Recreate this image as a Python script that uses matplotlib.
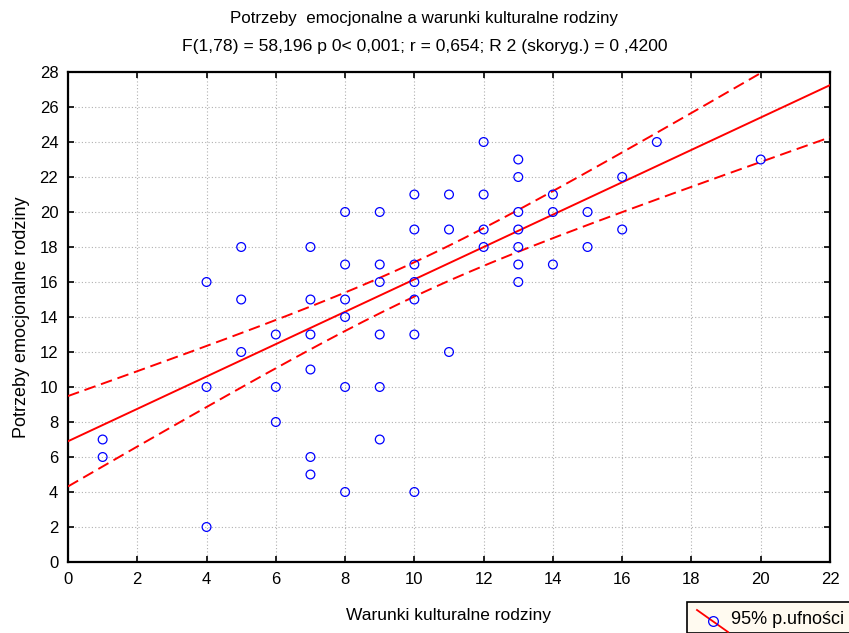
import numpy as np
import matplotlib
matplotlib.use("Agg")
import matplotlib.pyplot as plt
from matplotlib.patches import Rectangle
from matplotlib.lines import Line2D

plt.rcParams["font.family"] = ["Liberation Sans", "DejaVu Sans"]

# Warunki kulturalne (x) i potrzeby emocjonalne (y) - widoczne punkty
warunki = [1, 1,
           4, 4, 4,
           5, 5, 5,
           6, 6, 6,
           7, 7, 7, 7, 7, 7,
           8, 8, 8, 8, 8, 8,
           9, 9, 9, 9, 9, 9,
           10, 10, 10, 10, 10, 10, 10,
           11, 11, 11,
           12, 12, 12, 12,
           13, 13, 13, 13, 13, 13, 13,
           14, 14, 14,
           15, 15,
           16, 16,
           17,
           20]
potrzeby = [7, 6,
            16, 10, 2,
            18, 15, 12,
            13, 10, 8,
            18, 15, 13, 11, 6, 5,
            20, 17, 15, 14, 10, 4,
            20, 17, 16, 13, 10, 7,
            21, 19, 17, 16, 15, 13, 4,
            21, 19, 12,
            24, 21, 19, 18,
            23, 22, 20, 19, 18, 17, 16,
            21, 20, 17,
            20, 18,
            22, 19,
            24,
            23]

# parametry regresji
n_obs = 80
wyraz_wolny = 6.9
nachylenie = 0.925
srednia_x = 10.1
odch_reszt = 4.4
sxx = 1370.0
t_kryt = 1.9908  # t(0.975; 78)

xs = np.linspace(0, 22, 300)
y_fit = wyraz_wolny + nachylenie * xs
polszer = t_kryt * odch_reszt * np.sqrt(1 / n_obs + (xs - srednia_x) ** 2 / sxx)

fig = plt.figure(figsize=(8.49, 6.33), dpi=100)
ax = fig.add_axes([68 / 849, 1 - 562 / 633, 762 / 849, 490 / 633])

ax.plot(xs, y_fit, color="red", lw=1.4, zorder=3)
ax.plot(xs, y_fit + polszer, color="red", lw=1.4, ls=(0, (6, 3)), zorder=3)
ax.plot(xs, y_fit - polszer, color="red", lw=1.4, ls=(0, (6, 3)), zorder=3)
ax.scatter(warunki, potrzeby, s=40, facecolors="none", edgecolors="blue",
           linewidths=0.9, zorder=4)

ax.set_xlim(0, 22)
ax.set_ylim(0, 28)
ax.set_xticks(range(0, 23, 2))
ax.set_yticks(range(0, 29, 2))
ax.grid(True, color="#b0b0b0", ls=(0, (1, 2)), lw=0.8)
ax.tick_params(direction="in", top=True, right=True, length=4, width=1.2,
               labelsize=12, pad=7)
for sp in ax.spines.values():
    sp.set_linewidth(1.6)

ax.set_xlabel("Warunki kulturalne rodziny", fontsize=12.5, labelpad=15)
ax.set_ylabel("Potrzeby emocjonalne rodziny", fontsize=13, labelpad=7)

fig.text(0.5, 1 - 18 / 633, "Potrzeby  emocjonalne a warunki kulturalne rodziny",
         ha="center", va="center", fontsize=12.2)
fig.text(0.5, 1 - 47 / 633,
         "F(1,78) = 58,196 p 0< 0,001; r = 0,654; R 2 (skoryg.) = 0 ,4200",
         ha="center", va="center", fontsize=12.6)

# legenda w prawym dolnym rogu
fig.patches.append(Rectangle((687 / 849, 0), 170 / 849, 31 / 633,
                             transform=fig.transFigure, facecolor="#fffaf0",
                             edgecolor="black", lw=1.2))
fig.lines.append(Line2D([697 / 849, 728 / 849], [1 - 610 / 633, 1 - 632 / 633],
                        transform=fig.transFigure, color="red", lw=1.3))
fig.lines.append(Line2D([713 / 849], [1 - 621 / 633], transform=fig.transFigure,
                        marker="o", ms=7, mfc="none", mec="blue", mew=0.9))
fig.text(731 / 849, 1 - 620 / 633, "95% p.ufności", ha="left", va="center",
         fontsize=13)

fig.savefig("out.png", dpi=100)
